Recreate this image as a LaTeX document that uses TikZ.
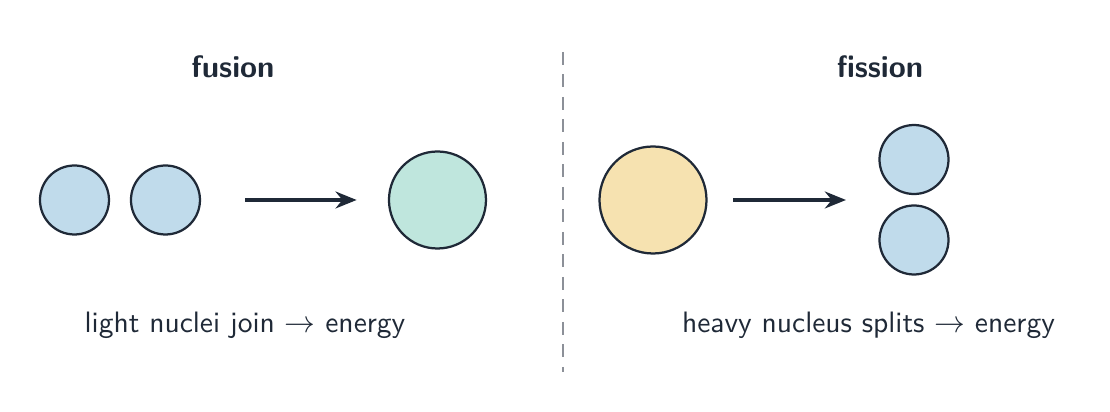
\documentclass[tikz,border=0pt]{standalone}
\usepackage{amsmath}
\usetikzlibrary{positioning, arrows.meta}

\definecolor{ink}{RGB}{31,41,55}
\definecolor{lightblue}{RGB}{192,219,235}
\definecolor{mint}{RGB}{191,230,221}
\definecolor{sand}{RGB}{246,226,176}
\definecolor{rule}{RGB}{140,144,152}

\begin{document}
\begin{tikzpicture}[on grid, font=\sffamily\fontsize{10.5}{12.5}\selectfont, text=ink]
        \tikzset{nucleus/.style={circle, draw=ink, line width=0.8pt, inner sep=0pt},
                 small/.style={nucleus, fill=lightblue, minimum size=0.8625cm},
                 flow/.style={-{Stealth[length=7.5pt,width=6pt]}, draw=ink, line width=1.3pt},
                 head/.style={font=\sffamily\fontsize{11}{13}\selectfont\bfseries},
                 divider/.style={draw=rule, line width=0.75pt, dash pattern=on 4.6pt off 3.4pt}}
        \useasboundingbox (0,0) rectangle (13.875,-5.15);

        % fusion
        \node[head] (fusiontitle) at (2.9125,-0.8375) {fusion};
        \node[small] (d1) at (0.931,-2.5) {};
        \node[small] (d2) [right=1.1375 of d1] {};
        \node[nucleus, fill=mint, minimum size=1.2125cm] (he) [right=3.4 of d2] {};
        \node (fusiontext) at (3.0625,-4.0625) {light nuclei join $\rightarrow$ energy};
        \draw[flow, shorten <=0.55cm, shorten >=0.39cm] (d2) -- (he);

        % divider
        \coordinate (cuttop) at (7.0375,-0.65);
        \coordinate (cutbot) at (7.0375,-4.65);
        \draw[divider] (cuttop) -- (cutbot);

        % fission
        \node[head] (fissiontitle) at (11.0,-0.8375) {fission};
        \node[nucleus, fill=sand, minimum size=1.3375cm] (u) at (8.1625,-2.5) {};
        \node[small] (f1) at (11.425,-1.994) {};
        \node[small] (f2) [below=1.006 of f1] {};
        \coordinate (into) at (10.575,-2.5);
        \node (fissiontext) at (10.856,-4.0625) {heavy nucleus splits $\rightarrow$ energy};
        \draw[flow, shorten <=0.32cm] (u) -- (into);
    \end{tikzpicture}
\end{document}
